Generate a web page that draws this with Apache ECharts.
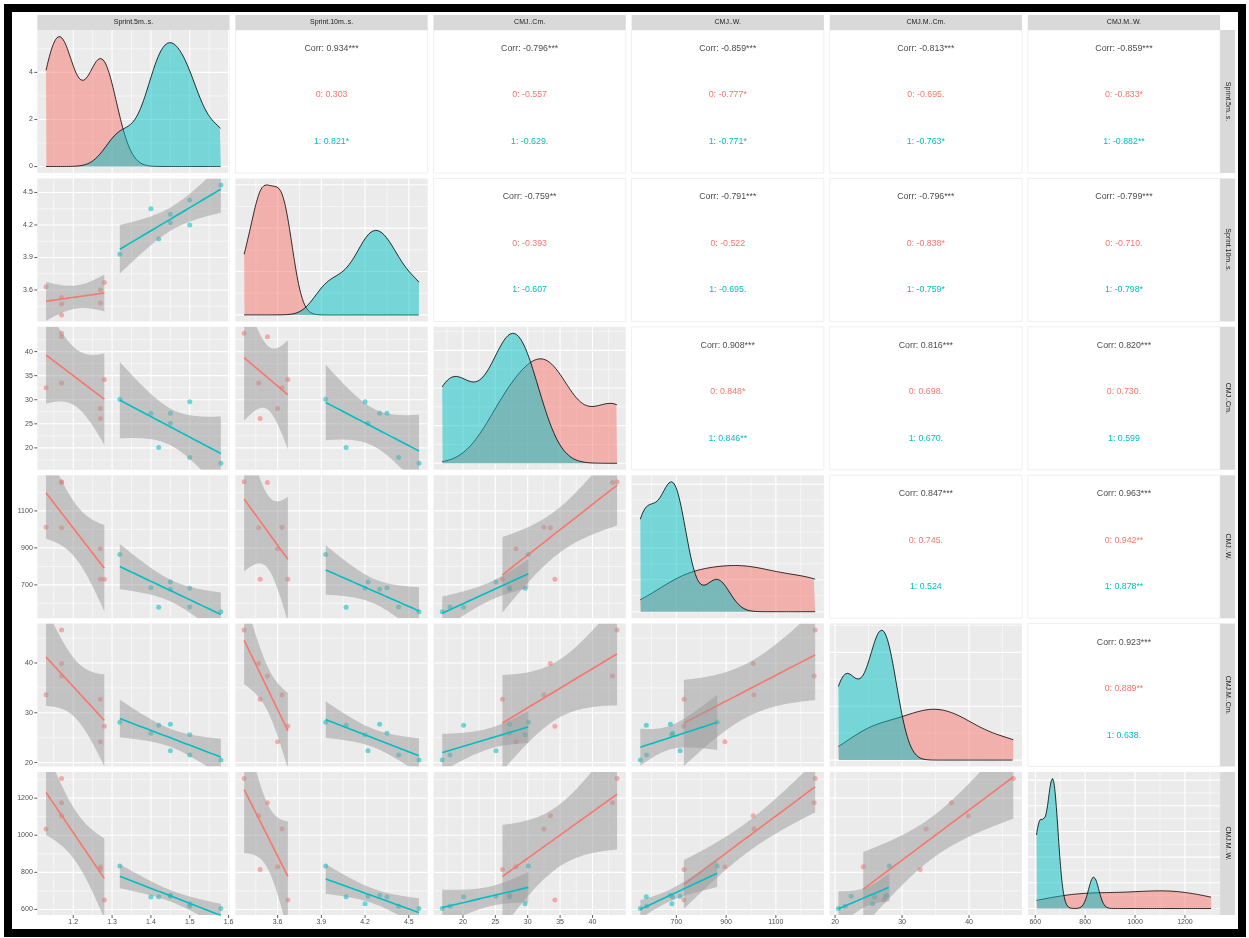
<!DOCTYPE html>
<html>
<head>
<meta charset="utf-8">
<script src="https://cdn.jsdelivr.net/npm/echarts@6/dist/echarts.min.js"></script>
<style>
html,body{margin:0;padding:0;background:#fff;}
#chart{width:1249px;height:938px;}
</style>
</head>
<body>
<div id="chart"></div>
<script>
// ---- data: one entry per athlete ----
const varNames = ['Sprint.5m..s.', 'Sprint.10m..s.', 'CMJ..Cm.', 'CMJ..W.', 'CMJ.M..Cm.', 'CMJ.M..W.'];
const group    = ['0','0','0','0','0','0','0','1','1','1','1','1','1','1','1'];
const sprint5  = [1.13, 1.17, 1.17, 1.17, 1.27, 1.27, 1.28, 1.32, 1.40, 1.42, 1.45, 1.45, 1.50, 1.50, 1.58];
const sprint10 = [3.63, 3.37, 3.53, 3.47, 3.60, 3.48, 3.67, 3.93, 4.35, 4.07, 4.30, 4.22, 4.43, 4.20, 4.57];
const cmjCm    = [32.5, 43.8, 43.1, 33.5, 28.2, 26.1, 34.2, 30.1, 27.2, 20.1, 27.2, 25.1, 18.0, 29.6, 16.8];
const cmjW     = [1012, 1258, 1254, 1009, 895, 731, 730, 864, 685, 579, 676, 715, 580, 682, 555];
const cmjMCm   = [33.6, 46.6, 37.4, 39.9, 24.2, 32.7, 27.3, 28.1, 25.9, 27.5, 27.7, 22.4, 21.5, 25.6, 20.5];
const cmjMW    = [1034, 1306, 1175, 1105, 830, 815, 651, 834, 667, 669, 677, 671, 617, 630, 605];

// axis breaks (labelled ticks) for each variable
const ticks5   = [1.2, 1.3, 1.4, 1.5, 1.6];
const ticks10  = [3.6, 3.9, 4.2, 4.5];
const ticksCm  = [20, 25, 30, 35, 40];
const ticksW   = [700, 900, 1100];
const ticksMCm = [20, 30, 40];
const ticksMW  = [600, 800, 1000, 1200];
const densityTicksFirst = [0, 2, 4];

// correlation labels for the upper triangle, row by row
const corrAll = ['0.934***','-0.796***','-0.859***','-0.813***','-0.859***',
                 '-0.759**','-0.791***','-0.796***','-0.799***',
                 '0.908***','0.816***','0.820***',
                 '0.847***','0.963***',
                 '0.923***'];
const corrGroup0 = ['0.303','-0.557','-0.777*','-0.695.','-0.833*',
                    '-0.393','-0.522','-0.838*','-0.710.',
                    '0.848*','0.698.','0.730.',
                    '0.745.','0.942**',
                    '0.889**'];
const corrGroup1 = ['0.821*','-0.629.','-0.771*','-0.763*','-0.882**',
                    '-0.607','-0.695.','-0.759*','-0.798*',
                    '0.846**','0.670.','0.599',
                    '0.524','0.878**',
                    '0.638.'];

const groupLevels = ['0', '1'];
const groupColors = ['#F8766D', '#00BFC4'];
const groupFills  = ['rgba(248,118,109,0.5)', 'rgba(0,191,196,0.5)'];
const pointColors = ['rgba(248,118,109,0.7)', 'rgba(0,191,196,0.7)'];
// two-sided 95% t quantiles by residual degrees of freedom
const tQuant = {5: 2.570582, 6: 2.446912};

const vars = [sprint5, sprint10, cmjCm, cmjW, cmjMCm, cmjMW];
const varTicks = [ticks5, ticks10, ticksCm, ticksW, ticksMCm, ticksMW];

// ---- layout ----
const L0 = 37.3, PSTEP = 198.1, PW = 192.3;
const T0 = 30, RSTEP = 148.4, PH = 143;
const FONT = "'Liberation Sans', Arial, Helvetica, sans-serif";
const panelLeft = c => L0 + c * PSTEP;
const panelTop = r => T0 + r * RSTEP;

// ---- helpers ----
const mean = a => a.reduce((s, v) => s + v, 0) / a.length;
function limitsOf(a) {
  const lo = Math.min(...a), hi = Math.max(...a), d = (hi - lo) * 0.05;
  return [lo - d, hi + d];
}
function quantile7(s, p) {
  const h = (s.length - 1) * p, lo = Math.floor(h);
  const hi = Math.min(lo + 1, s.length - 1);
  return s[lo] + (h - lo) * (s[hi] - s[lo]);
}
function bwNrd0(x) {
  const n = x.length, m = mean(x);
  const sd = Math.sqrt(x.reduce((s, v) => s + (v - m) * (v - m), 0) / (n - 1));
  const s = [...x].sort((a, b) => a - b);
  const iqr = quantile7(s, 0.75) - quantile7(s, 0.25);
  let lo = Math.min(sd, iqr / 1.34);
  if (!(lo > 0)) lo = sd || Math.abs(s[0]) || 1;
  return 0.9 * lo * Math.pow(n, -0.2);
}
function kde(x, from, to) {
  const n = 512, bw = bwNrd0(x), k = 1 / (x.length * bw * Math.sqrt(2 * Math.PI));
  const out = [];
  for (let i = 0; i < n; i++) {
    const xi = from + (to - from) * i / (n - 1);
    let d = 0;
    for (const v of x) { const z = (xi - v) / bw; d += Math.exp(-0.5 * z * z); }
    out.push([xi, d * k]);
  }
  return out;
}
function lmFit(x, y) {
  const n = x.length, xb = mean(x), yb = mean(y);
  let sxx = 0, sxy = 0;
  for (let i = 0; i < n; i++) { sxx += (x[i] - xb) ** 2; sxy += (x[i] - xb) * (y[i] - yb); }
  const b = sxy / sxx, a = yb - b * xb;
  let sse = 0;
  for (let i = 0; i < n; i++) sse += (y[i] - a - b * x[i]) ** 2;
  const s = Math.sqrt(sse / (n - 2)), t = tQuant[n - 2];
  const lo = Math.min(...x), hi = Math.max(...x);
  const fit = [], band = [];
  for (let i = 0; i < 80; i++) {
    const xv = lo + (hi - lo) * i / 79, yv = a + b * xv;
    const se = s * Math.sqrt(1 / n + (xv - xb) ** 2 / sxx);
    fit.push([xv, yv]);
    band.push([xv, yv - t * se, yv + t * se]);
  }
  return {fit, band};
}
function minorOf(b, lim) {
  const d = b[1] - b[0];
  const ext = [b[0] - d, ...b, b[b.length - 1] + d];
  const out = [];
  for (let i = 0; i < ext.length - 1; i++) out.push((ext[i] + ext[i + 1]) / 2);
  return out.filter(v => v >= lim[0] && v <= lim[1]);
}
function niceBreaks(lim) {
  const raw = (lim[1] - lim[0]) / 4;
  const e = Math.pow(10, Math.floor(Math.log10(raw)));
  const f = raw / e;
  const step = (f < 1.5 ? 1 : f < 3 ? 2 : f < 7 ? 5 : 10) * e;
  const out = [];
  for (let v = Math.ceil(lim[0] / step) * step; v <= lim[1] + 1e-12; v += step) out.push(+v.toFixed(10));
  return out;
}
const idxOf = g => group.map((v, i) => v === g ? i : -1).filter(i => i >= 0);
const pick = (arr, ids) => ids.map(i => arr[i]);

// ---- build option ----
const grids = [], xAxes = [], yAxes = [], series = [], graphics = [];
const varLim = vars.map(limitsOf);

// panel grid lines (major + minor) and, on the outer panels, ticks and labels
function gridLayer(gi, xb, yb, xLim, yLim, yLabels, showX) {
  series.push({
    type: 'custom', xAxisIndex: gi, yAxisIndex: gi, z: 1, silent: true, clip: false,
    data: [[(xLim[0] + xLim[1]) / 2, (yLim[0] + yLim[1]) / 2]],
    renderItem: (params, api) => {
      const cs = params.coordSys, ch = [];
      const xm = (xLim[0] + xLim[1]) / 2, ym = (yLim[0] + yLim[1]) / 2;
      const xMaj = xb.filter(v => v >= xLim[0] && v <= xLim[1]);
      const yMaj = yb.filter(v => v >= yLim[0] && v <= yLim[1]);
      minorOf(xb, xLim).forEach(v => {
        const p = api.coord([v, ym])[0];
        ch.push({type: 'line', shape: {x1: p, y1: cs.y, x2: p, y2: cs.y + cs.height}, style: {stroke: '#fff', lineWidth: 0.55}});
      });
      minorOf(yb, yLim).forEach(v => {
        const p = api.coord([xm, v])[1];
        ch.push({type: 'line', shape: {x1: cs.x, y1: p, x2: cs.x + cs.width, y2: p}, style: {stroke: '#fff', lineWidth: 0.55}});
      });
      xMaj.forEach(v => {
        const p = api.coord([v, ym])[0];
        ch.push({type: 'line', shape: {x1: p, y1: cs.y, x2: p, y2: cs.y + cs.height}, style: {stroke: '#fff', lineWidth: 1.1}});
        if (showX) {
          ch.push({type: 'line', shape: {x1: p, y1: cs.y + cs.height, x2: p, y2: cs.y + cs.height + 3}, style: {stroke: '#333', lineWidth: 0.8}});
          ch.push({type: 'text', style: {text: String(v), x: p, y: cs.y + cs.height + 4, align: 'center', verticalAlign: 'top', fill: '#4D4D4D', font: '7px ' + FONT}});
        }
      });
      yMaj.forEach(v => {
        const p = api.coord([xm, v])[1];
        ch.push({type: 'line', shape: {x1: cs.x, y1: p, x2: cs.x + cs.width, y2: p}, style: {stroke: '#fff', lineWidth: 1.1}});
      });
      if (yLabels) {
        yLabels.forEach(v => {
          const p = api.coord([xm, v])[1];
          ch.push({type: 'line', shape: {x1: cs.x - 3, y1: p, x2: cs.x, y2: p}, style: {stroke: '#333', lineWidth: 0.8}});
          ch.push({type: 'text', style: {text: String(v), x: cs.x - 4.5, y: p, align: 'right', verticalAlign: 'middle', fill: '#4D4D4D', font: '7px ' + FONT}});
        });
      }
      return {type: 'group', children: ch};
    }
  });
}

let gi = 0;
for (let r = 0; r < 6; r++) {
  for (let c = 0; c <= r; c++) {
    grids.push({left: panelLeft(c), top: panelTop(r), width: PW, height: PH, show: true,
                backgroundColor: '#EBEBEB', borderWidth: 0});
    const xLim = varLim[c];
    xAxes.push({type: 'value', gridIndex: gi, min: xLim[0], max: xLim[1], show: false});
    if (r === c) {
      // diagonal: density of the variable by group
      const curves = groupLevels.map(g => kde(pick(vars[c], idxOf(g)), Math.min(...vars[c]), Math.max(...vars[c])));
      const dMax = Math.max(...curves.map(cv => Math.max(...cv.map(p => p[1]))));
      const yLim = [-0.05 * dMax, 1.05 * dMax];
      yAxes.push({type: 'value', gridIndex: gi, min: yLim[0], max: yLim[1], show: false});
      const yb = c === 0 ? densityTicksFirst : niceBreaks([0, yLim[1]]);
      gridLayer(gi, varTicks[c], yb, xLim, yLim, c === 0 ? densityTicksFirst : null, r === 5);
      curves.forEach((cv, k) => {
        series.push({type: 'line', xAxisIndex: gi, yAxisIndex: gi, data: cv, z: 2 + k, silent: true,
          symbol: 'none', showSymbol: false, smooth: false,
          lineStyle: {color: '#000', width: 0.8},
          areaStyle: {color: groupFills[k], opacity: 1}});
      });
    } else {
      const yLim = varLim[r];
      yAxes.push({type: 'value', gridIndex: gi, min: yLim[0], max: yLim[1], show: false});
      gridLayer(gi, varTicks[c], varTicks[r], xLim, yLim, c === 0 ? varTicks[r] : null, r === 5);
      groupLevels.forEach((g, k) => {
        const ids = idxOf(g);
        series.push({type: 'scatter', xAxisIndex: gi, yAxisIndex: gi, z: 2, silent: true,
          symbolSize: 5, itemStyle: {color: pointColors[k]},
          data: ids.map(i => [vars[c][i], vars[r][i]])});
      });
      groupLevels.forEach((g, k) => {
        const ids = idxOf(g);
        const m = lmFit(pick(vars[c], ids), pick(vars[r], ids));
        series.push({type: 'custom', xAxisIndex: gi, yAxisIndex: gi, z: 3 + 2 * k, silent: true, clip: true,
          data: [m.band[0].slice(0, 2)],
          renderItem: (params, api) => {
            const up = m.band.map(p => api.coord([p[0], p[2]]));
            const lo = m.band.map(p => api.coord([p[0], p[1]])).reverse();
            const cs = params.coordSys;
            return {type: 'polygon', shape: {points: up.concat(lo)},
                    style: {fill: 'rgba(153,153,153,0.5)'},
                    clipPath: {type: 'rect', shape: {x: cs.x, y: cs.y, width: cs.width, height: cs.height}}};
          }});
        series.push({type: 'line', xAxisIndex: gi, yAxisIndex: gi, z: 4 + 2 * k, silent: true,
          data: m.fit, symbol: 'none', showSymbol: false,
          lineStyle: {color: groupColors[k], width: 1.6}});
      });
    }
    gi++;
  }
}

// upper triangle: correlation text panels
let pi = 0;
for (let r = 0; r < 6; r++) {
  for (let c = r + 1; c < 6; c++) {
    const x0 = panelLeft(c), y0 = panelTop(r), cx = x0 + PW / 2;
    graphics.push({type: 'rect', shape: {x: x0, y: y0, width: PW, height: PH},
                   style: {fill: '#fff', stroke: '#EFEFEF', lineWidth: 1}, z: 0});
    graphics.push({type: 'text', x: cx, y: y0 + 18.5, z: 1,
      style: {text: 'Corr: ' + corrAll[pi], align: 'center', verticalAlign: 'middle', fill: '#4D4D4D', font: '8.8px ' + FONT}});
    graphics.push({type: 'text', x: cx, y: y0 + 65, z: 1,
      style: {text: groupLevels[0] + ': ' + corrGroup0[pi], align: 'center', verticalAlign: 'middle', fill: groupColors[0], font: '8.8px ' + FONT}});
    graphics.push({type: 'text', x: cx, y: y0 + 111.5, z: 1,
      style: {text: groupLevels[1] + ': ' + corrGroup1[pi], align: 'center', verticalAlign: 'middle', fill: groupColors[1], font: '8.8px ' + FONT}});
    pi++;
  }
}

// facet strips
for (let c = 0; c < 6; c++) {
  graphics.push({type: 'rect', shape: {x: panelLeft(c), y: 15, width: PW, height: 15}, style: {fill: '#D9D9D9'}, z: 1});
  graphics.push({type: 'text', x: panelLeft(c) + PW / 2, y: 22.5, z: 2,
    style: {text: varNames[c], align: 'center', verticalAlign: 'middle', fill: '#1A1A1A', font: '7px ' + FONT}});
}
const stripX = panelLeft(5) + PW;
for (let r = 0; r < 6; r++) {
  graphics.push({type: 'rect', shape: {x: stripX, y: panelTop(r), width: 15, height: PH}, style: {fill: '#D9D9D9'}, z: 1});
  graphics.push({type: 'text', x: stripX + 7.5, y: panelTop(r) + PH / 2, rotation: -Math.PI / 2, z: 2,
    style: {text: varNames[r], align: 'center', verticalAlign: 'middle', fill: '#1A1A1A', font: '7px ' + FONT}});
}
// outer frame
graphics.push({type: 'rect', shape: {x: 8, y: 8, width: 1234, height: 925},
               style: {fill: 'none', stroke: '#000', lineWidth: 8}, z: 10});

const chart = echarts.init(document.getElementById('chart'), null, {renderer: 'canvas', width: 1249, height: 938});
chart.setOption({
  animation: false,
  backgroundColor: '#fff',
  grid: grids,
  xAxis: xAxes,
  yAxis: yAxes,
  series: series,
  graphic: {elements: graphics}
});
</script>
</body>
</html>
